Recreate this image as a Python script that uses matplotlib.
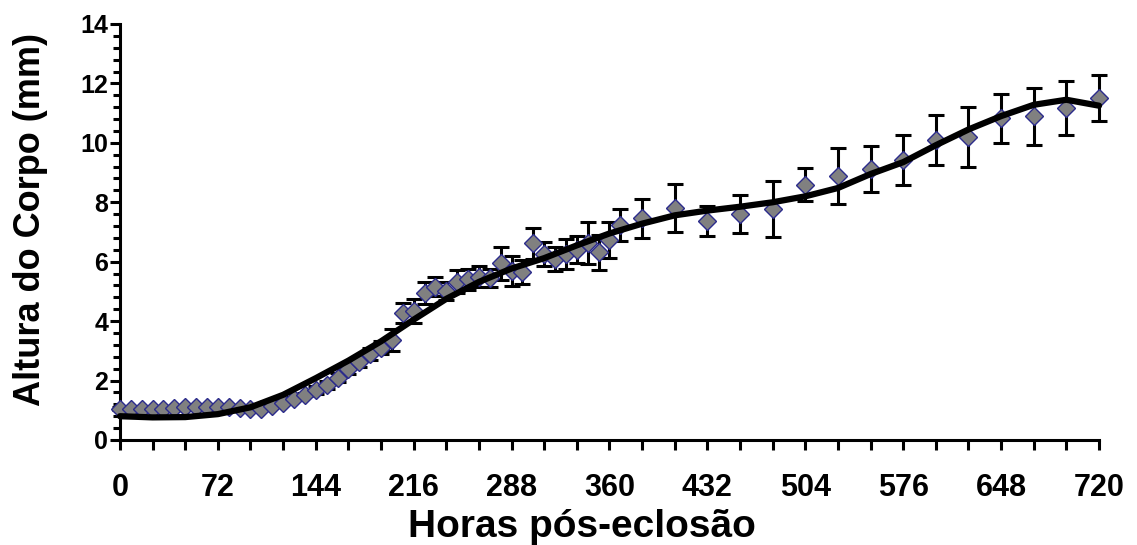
import numpy as np
import matplotlib
matplotlib.use("Agg")
import matplotlib.pyplot as plt
from matplotlib.ticker import MultipleLocator

plt.rcParams['font.family'] = ['Liberation Sans', 'DejaVu Sans']

# measured points (hours after hatching, body height mm, error)
hours = [0, 8, 16, 24, 32, 40, 48, 56, 64, 72, 80, 88, 96, 104, 112, 120,
         128, 136, 144, 152, 160, 168, 176, 184, 192, 200, 208, 216, 224,
         232, 240, 248, 256, 264, 272, 280, 288, 296, 304, 312, 320, 328,
         336, 344, 352, 360, 368,
         384, 408, 432, 456, 480, 504, 528, 552, 576, 600, 624, 648, 672,
         696, 720]
altura = [1.05, 1.05, 1.05, 1.05, 1.05, 1.08, 1.10, 1.10, 1.10, 1.10, 1.12,
          1.08, 1.03, 1.05, 1.15, 1.25, 1.38, 1.52, 1.68, 1.85, 2.10, 2.40,
          2.62, 2.88, 3.10, 3.35, 4.27, 4.33, 4.94, 5.16, 5.02, 5.33, 5.41,
          5.50, 5.46, 5.95, 5.68, 5.65, 6.62, 6.25, 6.08, 6.26, 6.40, 6.62,
          6.31, 6.72, 7.24,
          7.46, 7.80, 7.37, 7.60, 7.77, 8.59, 8.89, 9.12, 9.43, 10.10, 10.19,
          10.83, 10.89, 11.17, 11.50]
erro = [0.05, 0.05, 0.05, 0.05, 0.05, 0.05, 0.05, 0.05, 0.05, 0.05, 0.05,
        0.05, 0.05, 0.05, 0.05, 0.05, 0.05, 0.05, 0.12, 0.15, 0.15, 0.18,
        0.18, 0.20, 0.22, 0.37, 0.35, 0.40, 0.36, 0.33, 0.30, 0.40, 0.35,
        0.35, 0.30, 0.55, 0.50, 0.40, 0.53, 0.40, 0.40, 0.50, 0.45, 0.70,
        0.60, 0.60, 0.53,
        0.65, 0.80, 0.50, 0.65, 0.95, 0.55, 0.95, 0.76, 0.84, 0.84, 1.00,
        0.83, 0.95, 0.90, 0.77]

# trend line
trend_h = [0, 24, 48, 72, 96, 120, 144, 168, 192, 216, 240, 264, 288, 312,
           336, 360, 384, 408, 432, 456, 480, 504, 528, 552, 576, 600, 624,
           648, 672, 696, 720]
trend_v = [0.80, 0.76, 0.77, 0.87, 1.10, 1.52, 2.08, 2.67, 3.32, 4.05, 4.75,
           5.32, 5.77, 6.12, 6.55, 6.95, 7.28, 7.56, 7.72, 7.85, 8.00, 8.20,
           8.48, 8.95, 9.35, 9.92, 10.45, 10.90, 11.28, 11.45, 11.25]

fig = plt.figure(figsize=(11.37, 5.45), dpi=100)
ax = fig.add_axes([0.1055, 0.1927, 0.8611, 0.7633])

ax.errorbar(hours, altura, yerr=erro, fmt='none', ecolor='black',
            elinewidth=2.2, capsize=6, capthick=2.2, zorder=2, clip_on=False)
ax.plot(hours, altura, 'D', ms=9.5, mfc='#808080', mec='#2B2B8C', mew=1.0,
        zorder=3, clip_on=False)
ax.plot(trend_h, trend_v, color='black', lw=4.5, zorder=4,
        solid_joinstyle='round', solid_capstyle='round', clip_on=False)

ax.set_xlim(0, 720)
ax.set_ylim(0, 14)
ax.xaxis.set_major_locator(MultipleLocator(72))
ax.xaxis.set_minor_locator(MultipleLocator(24))
ax.yaxis.set_major_locator(MultipleLocator(2))
ax.yaxis.set_minor_locator(MultipleLocator(0.4))

for s in ['top', 'right']:
    ax.spines[s].set_visible(False)
for s in ['left', 'bottom']:
    ax.spines[s].set_linewidth(2.2)

ax.tick_params(axis='both', which='both', direction='out', width=2.2,
               color='black')
ax.tick_params(axis='x', which='both', length=7)
ax.tick_params(axis='x', which='major', labelsize=22, pad=17)
ax.tick_params(axis='y', which='major', length=7, labelsize=18, pad=1.5)
ax.tick_params(axis='y', which='minor', length=5)
for lab in ax.get_xticklabels() + ax.get_yticklabels():
    lab.set_fontweight('bold')

ax.set_xlabel('Horas pós-eclosão', fontsize=28, fontweight='bold')
ax.set_ylabel('Altura do Corpo (mm)', fontsize=26, fontweight='bold')
ax.xaxis.set_label_coords(0.472, -0.165)
ax.yaxis.set_label_coords(-0.074, 0.53)

fig.savefig('out.png', dpi=100)
